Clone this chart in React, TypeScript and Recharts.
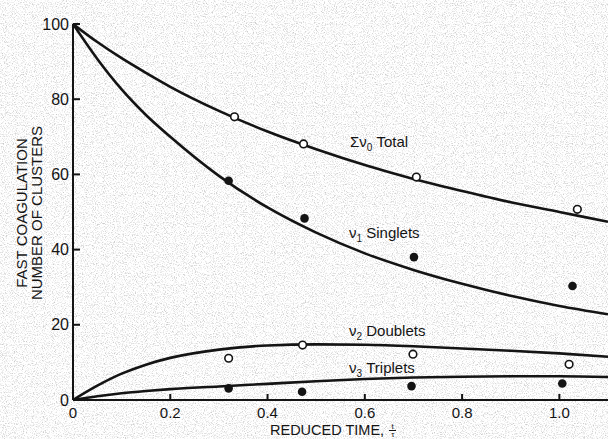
import { ComposedChart, Line, Scatter, XAxis, YAxis } from "recharts";

// reduced time t/τ and fitted curves
const curveT = [0, 0.05, 0.1, 0.15, 0.2, 0.3, 0.4, 0.5, 0.6, 0.7, 0.8, 0.9, 1.0, 1.1];
const totalCurve = [100, 95.2, 90.9, 87, 83.3, 76.9, 71.4, 66.7, 62.5, 58.8, 55.6, 52.6, 50, 47.4];
const singletsCurve = [100, 90.7, 82.6, 75.8, 70, 59.6, 51.2, 44.5, 39, 34.6, 30.9, 27.7, 25, 22.8];
const doubletsCurve = [0, 3.8, 7.0, 9.4, 11.2, 13.4, 14.5, 14.8, 14.7, 14.3, 13.7, 13.1, 12.4, 11.5];
const tripletsCurve = [0, 1.0, 1.8, 2.4, 2.9, 3.6, 4.3, 5.0, 5.6, 6.0, 6.2, 6.3, 6.3, 6.1];

// measured points
const totalT = [0.332, 0.474, 0.706, 1.037];
const totalObs = [75.3, 68.1, 59.3, 50.7];
const singletsT = [0.32, 0.476, 0.701, 1.027];
const singletsObs = [58.3, 48.3, 38.0, 30.3];
const doubletsT = [0.32, 0.472, 0.699, 1.02];
const doubletsObs = [11.1, 14.6, 12.2, 9.5];
const tripletsT = [0.32, 0.471, 0.696, 1.006];
const tripletsObs = [3.1, 2.2, 3.7, 4.4];

const xTicks = [0, 0.2, 0.4, 0.6, 0.8, 1.0];
const yTicks = [0, 20, 40, 60, 80, 100];

const toRows = (ts: number[], ns: number[]) => ts.map((t, i) => ({ t, n: ns[i] }));

const INK = "#141414";
const FONT = "'Liberation Sans', Arial, sans-serif";

const OpenDot = (p: any) => (
  <circle cx={p.cx} cy={p.cy} r={3.8} fill="#fff" stroke={INK} strokeWidth={1.6} />
);
const FilledDot = (p: any) => <circle cx={p.cx} cy={p.cy} r={4.3} fill={INK} />;

const Note = ({ x, y, sym, sub, text }: { x: number; y: number; sym: string; sub: string; text: string }) => (
  <div style={{ position: "absolute", left: x, top: y, fontSize: 15, color: INK, whiteSpace: "nowrap", lineHeight: "16px" }}>
    {sym}
    <sub style={{ fontSize: 10, verticalAlign: "-4px" }}>{sub}</sub> {text}
  </div>
);

export default function App() {
  return (
    <div style={{ position: "absolute", left: 0, top: 0, width: 608, height: 439, overflow: "hidden", fontFamily: FONT, background: "#fff" }}>
      <svg width={608} height={439} style={{ position: "absolute", left: 0, top: 0 }}>
        <filter id="grain">
          <feTurbulence type="fractalNoise" baseFrequency="0.9" numOctaves="2" seed="7" />
          <feColorMatrix type="matrix" values="0 0 0 0 0.6  0 0 0 0 0.6  0 0 0 0 0.6  3 0 0 0 -1.45" />
        </filter>
        <rect width={608} height={439} filter="url(#grain)" />
      </svg>
      <div style={{ position: "absolute", left: 0, top: 0 }}>
        <ComposedChart width={608} height={439} margin={{ top: 24, right: 0, bottom: 0, left: 0 }}>
          <XAxis
            type="number"
            dataKey="t"
            domain={[0, 1.1]}
            ticks={xTicks}
            allowDataOverflow
            height={39}
            stroke={INK}
            strokeWidth={2}
            tickSize={-6}
            tickMargin={13}
            tick={{ fill: INK, fontSize: 15, fontFamily: FONT }}
            tickFormatter={(v: number) => (v === 0 ? "0" : v.toFixed(1))}
          />
          <YAxis
            type="number"
            dataKey="n"
            domain={[0, 100]}
            ticks={yTicks}
            width={73}
            stroke={INK}
            strokeWidth={2}
            tickSize={-7}
            tickMargin={11}
            tick={{ fill: INK, fontSize: 16, fontFamily: FONT }}
          />
          <Line data={toRows(curveT, totalCurve)} dataKey="n" type="monotone" stroke={INK} strokeWidth={2.6} dot={false} isAnimationActive={false} />
          <Line data={toRows(curveT, singletsCurve)} dataKey="n" type="monotone" stroke={INK} strokeWidth={2.6} dot={false} isAnimationActive={false} />
          <Line data={toRows(curveT, doubletsCurve)} dataKey="n" type="monotone" stroke={INK} strokeWidth={2.6} dot={false} isAnimationActive={false} />
          <Line data={toRows(curveT, tripletsCurve)} dataKey="n" type="monotone" stroke={INK} strokeWidth={2.6} dot={false} isAnimationActive={false} />
          <Scatter data={toRows(totalT, totalObs)} dataKey="n" shape={OpenDot} isAnimationActive={false} />
          <Scatter data={toRows(singletsT, singletsObs)} dataKey="n" shape={FilledDot} isAnimationActive={false} />
          <Scatter data={toRows(doubletsT, doubletsObs)} dataKey="n" shape={OpenDot} isAnimationActive={false} />
          <Scatter data={toRows(tripletsT, tripletsObs)} dataKey="n" shape={FilledDot} isAnimationActive={false} />
        </ComposedChart>
      </div>

      <Note x={350} y={134} sym="Σν" sub="0" text="Total" />
      <Note x={349} y={225} sym="ν" sub="1" text="Singlets" />
      <Note x={349} y={323} sym="ν" sub="2" text="Doublets" />
      <Note x={349} y={360} sym="ν" sub="3" text="Triplets" />

      <div
        style={{
          position: "absolute",
          left: 29,
          top: 213,
          transform: "translate(-50%, -50%) rotate(-90deg)",
          fontSize: 15,
          lineHeight: "15px",
          color: INK,
          textAlign: "center",
          whiteSpace: "nowrap",
        }}
      >
        FAST COAGULATION
        <br />
        NUMBER OF CLUSTERS
      </div>

      <div style={{ position: "absolute", left: 270, top: 423, fontSize: 14.5, lineHeight: "15px", color: INK, whiteSpace: "nowrap", display: "flex", alignItems: "center" }}>
        REDUCED TIME,
        <span style={{ display: "inline-flex", flexDirection: "column", alignItems: "center", fontSize: 8, lineHeight: "7px", marginLeft: 5 }}>
          <span>t</span>
          <span style={{ borderTop: `1.2px solid ${INK}`, padding: "0 2px" }}>τ</span>
        </span>
      </div>
    </div>
  );
}
